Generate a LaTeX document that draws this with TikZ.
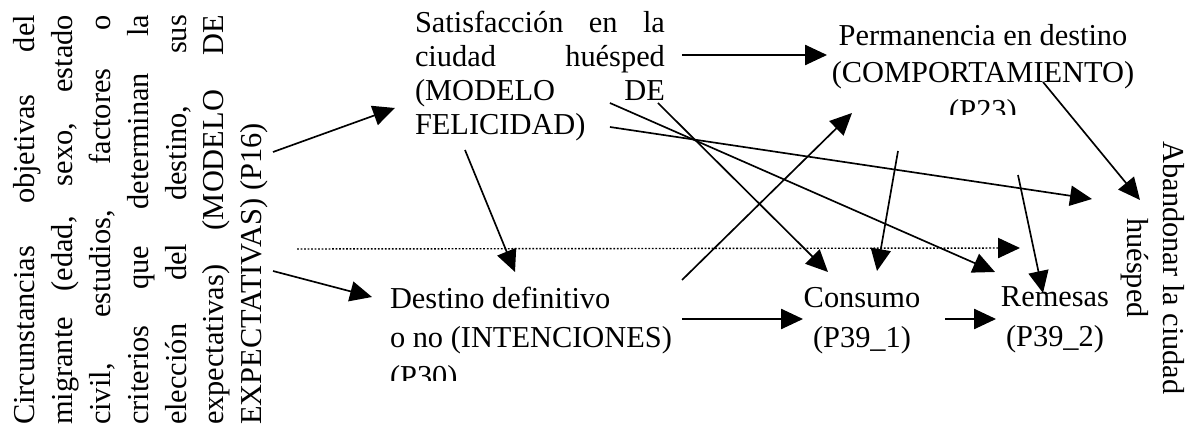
\documentclass[tikz,border=0pt]{standalone}
\usepackage{fontspec}
\setmainfont{Liberation Serif}
\usepackage{tikz}
\usetikzlibrary{arrows.meta}

\tikzset{
  txt/.style={inner sep=0pt, outer sep=0pt},
  arr/.style={-{Triangle[length=12.5pt,width=11.5pt]}, line width=.95pt},
}

\begin{document}
\begin{tikzpicture}
  [x=0.02cm, y=-0.02cm]
  \useasboundingbox (0,0) rectangle (1194,429);

  \node[txt, rotate=90, text width=8.2cm, align=justify,
        font=\fontsize{17.3}{21.5}\selectfont] (expect) at (141,220)
    {Circunstancias objetivas del\linebreak
     migrante (edad, sexo, estado\linebreak
     civil, estudios, factores o\linebreak
     criterios que determinan la\linebreak
     elección del destino, sus\linebreak
     expectativas) (MODELO DE\linebreak
     EXPECTATIVAS) (P16)};
  \node[txt, anchor=north west, text width=5cm, align=justify,
        font=\fontsize{17.3}{19.3}\selectfont] (sat) at (415,11)
    {Satisfacción en la\linebreak
     ciudad huésped\linebreak
     (MODELO DE\linebreak
     FELICIDAD)};
  \begin{scope}
    \clip (700,0) rectangle (1194,115);
    \node[txt, anchor=north, align=center,
          font=\fontsize{17.3}{21.5}\selectfont] (perm) at (983,24)
      {Permanencia en destino\\(COMPORTAMIENTO)\\(P23)};
  \end{scope}
  \begin{scope}
    \clip (380,250) rectangle (700,380);
    \node[txt, anchor=north west, align=left,
          font=\fontsize{17.3}{22.1}\selectfont] (dest) at (390,287)
      {Destino definitivo\\o no (INTENCIONES)\\(P30)};
  \end{scope}
  \node[txt, anchor=north, align=center,
        font=\fontsize{17.3}{22.7}\selectfont] (cons) at (862,287)
    {Consumo\\(P39\_1)};
  \node[txt, anchor=north, align=center,
        font=\fontsize{17.3}{22.7}\selectfont] (rem) at (1055,287)
    {Remesas\\(P39\_2)};
  \node[txt, rotate=-90, align=center,
        font=\fontsize{17.3}{20.5}\selectfont] (aband) at (1153,268)
    {Abandonar la ciudad\\huésped};

  % dotted line between the two levels
  \draw[arr, line width=.8pt, dash pattern=on 1pt off 1pt]
    ([shift={(156,29)}]expect.center) -- ([shift={(-35,-39)}]rem.north);

  \draw[arr] ([shift={(132,-68)}]expect.center) -- ([shift={(-20,97)}]sat.north west);
  \draw[arr] ([shift={(132,51)}]expect.center) -- ([shift={(-18,10)}]dest.north west);
  \draw[arr] ([shift={(50,139)}]sat.north west) -- ([shift={(125,-15)}]dest.north west);
  \draw[arr] ([shift={(17,44)}]sat.north east) -- ([shift={(-156,31)}]perm.north);
  \draw[arr] ([shift={(-7,92)}]sat.north east) -- ([shift={(-34,-15)}]cons.north);
  \draw[arr] ([shift={(-55,92)}]sat.north east) -- ([shift={(-60,-15)}]rem.north);
  \draw[arr] ([shift={(-55,116)}]sat.north east) -- ([shift={(-61,-69)}]aband.center);
  \draw[arr] ([shift={(292,-7)}]dest.north west) -- ([shift={(-131,89)}]perm.north);
  \draw[arr] ([shift={(292,32)}]dest.north west) -- ([shift={(-59,32)}]cons.north);
  \draw[arr] ([shift={(83,32)}]cons.north) -- ([shift={(-59,32)}]rem.north);
  \draw[arr] ([shift={(-85,127)}]perm.north) -- ([shift={(15,-16)}]cons.north);
  \draw[arr] ([shift={(35,151)}]perm.north) -- ([shift={(-12,6)}]rem.north);
  \draw[arr] ([shift={(60,58)}]perm.north) -- ([shift={(-13,-68)}]aband.center);
\end{tikzpicture}
\end{document}
